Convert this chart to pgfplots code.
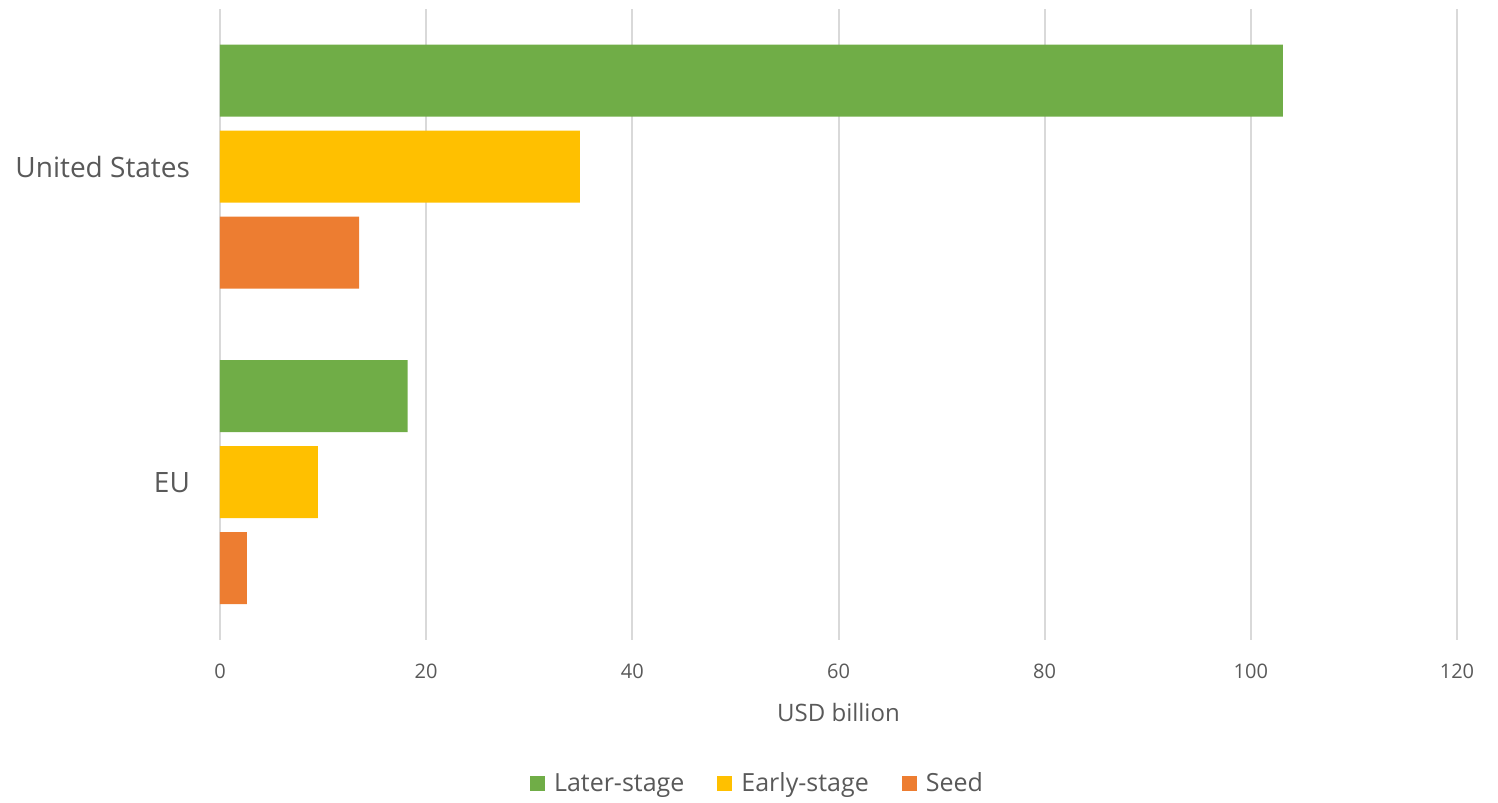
\documentclass[border=0pt]{standalone}
\usepackage{fontspec}
\setmainfont{Open Sans}
\usepackage{pgfplots}
\pgfplotsset{compat=1.18}
\definecolor{cgreen}{HTML}{70AD47}
\definecolor{cyellow}{HTML}{FFC000}
\definecolor{corange}{HTML}{ED7D31}
\definecolor{textgray}{HTML}{595959}
\definecolor{gridgray}{HTML}{D9D9D9}
\begin{document}
\begin{tikzpicture}
\begin{axis}[name=ax, xbar, scale only axis, width=618.5pt, height=315.5pt,
  xmin=0, xmax=120, ymin=-0.5, ymax=1.5,
  xtick={0,20,...,120}, ytick={0,1}, yticklabels={EU,United States},
  yticklabel style={font=\fontsize{14}{16}\selectfont, text=textgray, xshift=-11.5pt},
  xticklabel style={font=\fontsize{10}{12}\selectfont, text=textgray, yshift=-8.5pt},
  /pgf/number format/assume math mode=true,
  axis line style={draw=none}, major tick length=0pt,
  xmajorgrids, grid style={gridgray, line width=1pt},
  xlabel={USD billion}, xlabel style={font=\fontsize{12}{14}\selectfont, text=textgray, yshift=-5.5pt},
  bar width=36pt,
  legend columns=3,
  legend style={draw=none, font=\fontsize{12.5}{14}\selectfont, text=textgray,
    at={(0.4353,-0.228)}, anchor=center,
    /tikz/every odd column/.append style={column sep=2.5pt},
    /tikz/every even column/.append style={column sep=14.5pt}},
  legend image code/.code={\fill[#1] (0pt,-3.75pt) rectangle (7.5pt,3.75pt);},
]
\addplot[fill=cgreen, draw=none, bar shift=43pt] coordinates {(103.1,1) (18.2,0)};
\addlegendentry{Later-stage}
\addplot[fill=cyellow, draw=none, bar shift=0pt] coordinates {(34.9,1) (9.5,0)};
\addlegendentry{Early-stage}
\addplot[fill=corange, draw=none, bar shift=-43pt] coordinates {(13.5,1) (2.6,0)};
\addlegendentry{Seed}
\end{axis}
\path (ax.south west) ++(-110pt,-81pt) rectangle ++(749pt,401pt);
\end{tikzpicture}
\end{document}
